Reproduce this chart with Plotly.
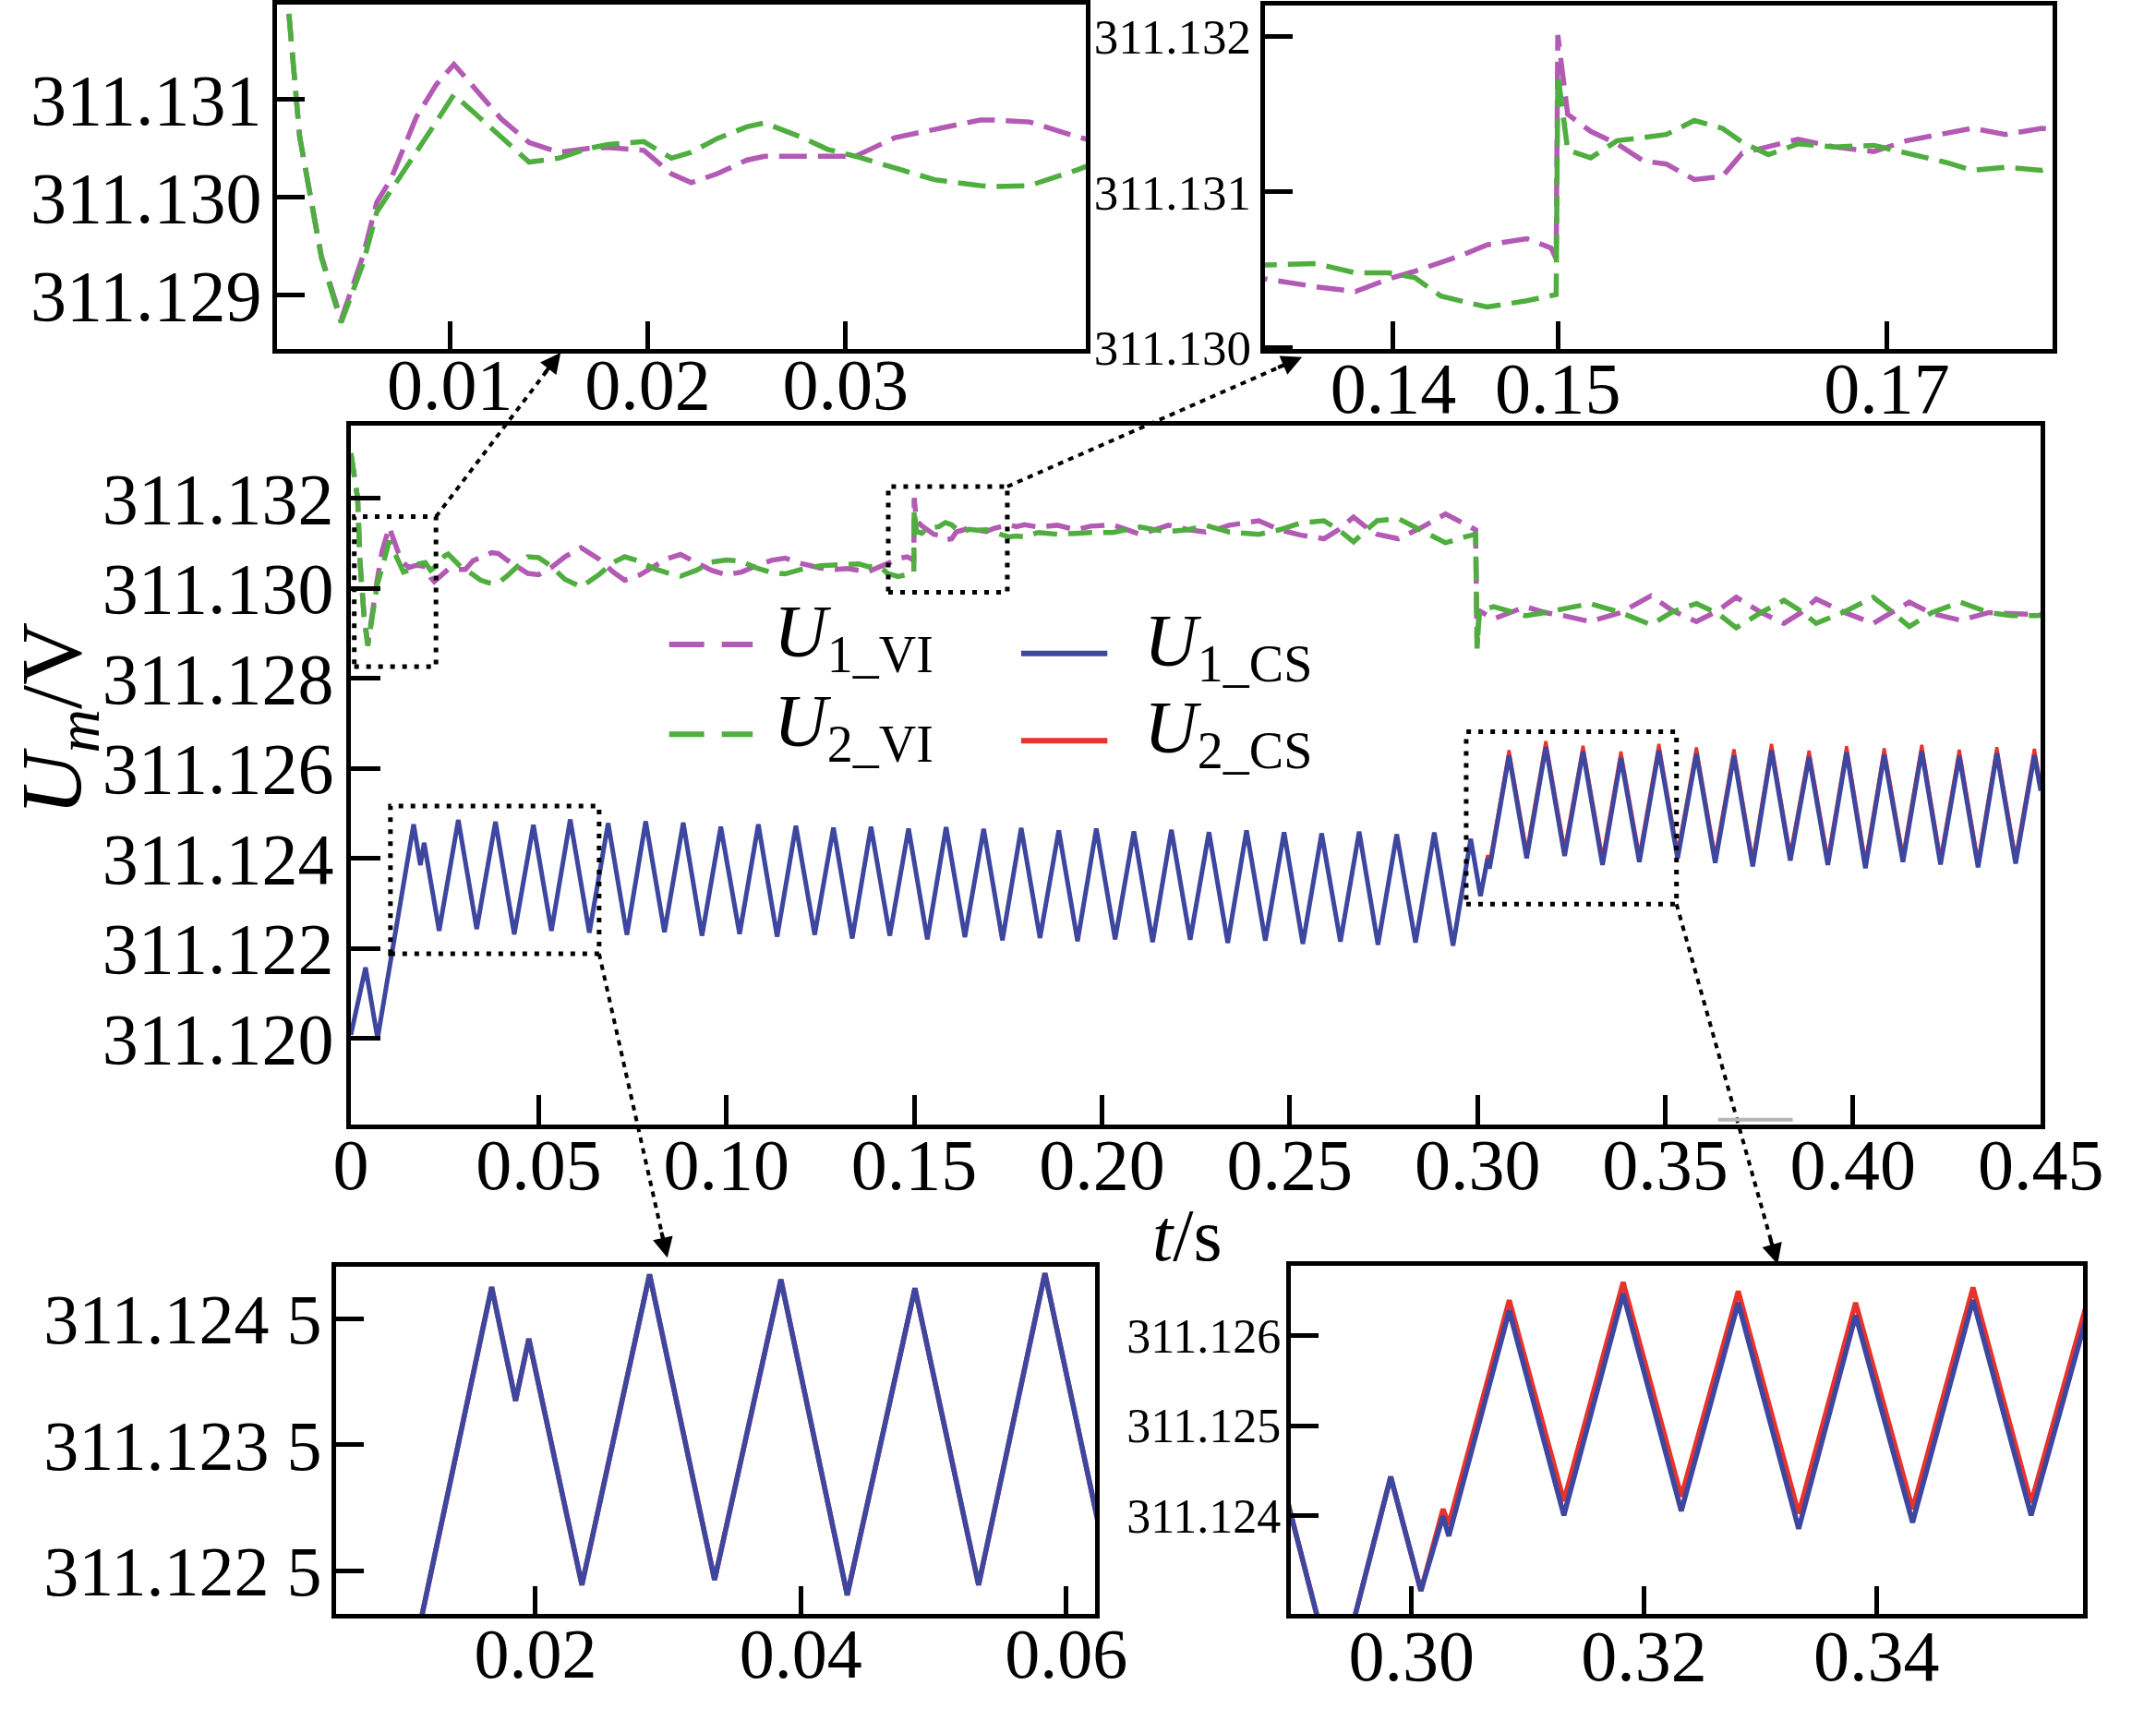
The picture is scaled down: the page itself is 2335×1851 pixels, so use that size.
import plotly.graph_objects as go

W, H = 2335, 1851
FONT = "Liberation Serif"

# ---------------- data ----------------
# Current-sharing (CS) control: vertex times (s)
t_cs = [
    0.0, 0.0039, 0.0071, 0.0167, 0.0185, 0.0195,
    0.0235, 0.0286, 0.0335, 0.0385, 0.0435, 0.0486, 0.0534, 0.0584,
    0.0635, 0.0685, 0.0735, 0.0785, 0.0835, 0.0885, 0.0935, 0.0985,
    0.1035, 0.1085, 0.1135, 0.1185, 0.1235, 0.1285, 0.1335, 0.1385,
    0.1435, 0.1485, 0.1535, 0.1585, 0.1635, 0.1685, 0.1735, 0.1785,
    0.1835, 0.1885, 0.1935, 0.1985, 0.2035, 0.2085, 0.2135, 0.2185,
    0.2235, 0.2285, 0.2335, 0.2385, 0.2435, 0.2485, 0.2535, 0.2585,
    0.2635, 0.2685, 0.2735, 0.2785, 0.2835, 0.2885, 0.2935,
    0.2982, 0.3008, 0.3027, 0.3032, 0.3084, 0.3131, 0.3182, 0.3232,
    0.3281, 0.3333, 0.3382, 0.3431, 0.3483, 0.3533,
    0.3583, 0.3633, 0.3683, 0.3733, 0.3783, 0.3833, 0.3883, 0.3933,
    0.3983, 0.4033, 0.4083, 0.4133, 0.4183, 0.4233, 0.4283, 0.4333,
    0.4383, 0.4433, 0.4483, 0.4500,
]
u1_cs = [
    311.12008, 311.12157, 311.12000, 311.12475, 311.12385, 311.12434,
    311.12239, 311.12485, 311.12243, 311.12481, 311.12231, 311.12474, 311.12239, 311.12486,
    311.12235, 311.12478, 311.12230, 311.12482, 311.12236, 311.12479, 311.12228, 311.12470,
    311.12232, 311.12475, 311.12226, 311.12472, 311.12230, 311.12468, 311.12222, 311.12470,
    311.12228, 311.12466, 311.12220, 311.12469, 311.12225, 311.12465, 311.12218, 311.12467,
    311.12223, 311.12462, 311.12216, 311.12466, 311.12220, 311.12460, 311.12214, 311.12463,
    311.12219, 311.12458, 311.12212, 311.12462, 311.12217, 311.12458, 311.12210, 311.12455,
    311.12215, 311.12459, 311.12208, 311.12453, 311.12213, 311.12457, 311.12206,
    311.12443, 311.12316, 311.12399, 311.12377, 311.12628, 311.12400, 311.12647, 311.12405,
    311.12637, 311.12385, 311.12623, 311.12392, 311.12640, 311.12400,
    311.12632, 311.12390, 311.12628, 311.12382, 311.12640, 311.12395, 311.12625, 311.12385,
    311.12635, 311.12378, 311.12630, 311.12392, 311.12638, 311.12386, 311.12627, 311.12380,
    311.12633, 311.12388, 311.12629, 311.12550,
]
u2_cs = [
    311.12008, 311.12157, 311.12000, 311.12475, 311.12385, 311.12434,
    311.12239, 311.12485, 311.12243, 311.12481, 311.12231, 311.12474, 311.12239, 311.12486,
    311.12235, 311.12478, 311.12230, 311.12482, 311.12236, 311.12479, 311.12228, 311.12470,
    311.12232, 311.12475, 311.12226, 311.12472, 311.12230, 311.12468, 311.12222, 311.12470,
    311.12228, 311.12466, 311.12220, 311.12469, 311.12225, 311.12465, 311.12218, 311.12467,
    311.12223, 311.12462, 311.12216, 311.12466, 311.12220, 311.12460, 311.12214, 311.12463,
    311.12219, 311.12458, 311.12212, 311.12462, 311.12217, 311.12458, 311.12210, 311.12455,
    311.12215, 311.12459, 311.12208, 311.12453, 311.12213, 311.12457, 311.12206,
    311.12443, 311.12316, 311.12407, 311.12390, 311.12640, 311.12416, 311.12660, 311.12421,
    311.12650, 311.12402, 311.12637, 311.12407, 311.12654, 311.12414,
    311.12646, 311.12405, 311.12642, 311.12397, 311.12654, 311.12410, 311.12639, 311.12400,
    311.12649, 311.12393, 311.12644, 311.12407, 311.12652, 311.12401, 311.12641, 311.12395,
    311.12647, 311.12403, 311.12643, 311.12565,
]

# Virtual-inertia (VI) control: sample times (s)
t_vi = [
    0.0, 0.0018, 0.0024, 0.0035, 0.0045, 0.0056, 0.0063, 0.0070, 0.0083, 0.0093,
    0.0102, 0.0113, 0.0126, 0.0140, 0.0155, 0.0170, 0.0180, 0.0198, 0.0212, 0.0222,
    0.0235, 0.0250, 0.0259, 0.0277, 0.0291, 0.0305, 0.0325, 0.0345, 0.0368, 0.0375,
    0.0393, 0.0417,
    0.0471, 0.0500, 0.0532, 0.0570, 0.0613, 0.0660, 0.0700, 0.0729, 0.0770, 0.0803,
    0.0840, 0.0878, 0.0920, 0.0960, 0.1000, 0.1040, 0.1080, 0.1120, 0.1156, 0.1200,
    0.1250, 0.1290,
    0.1323, 0.1353, 0.1377, 0.1397, 0.1413, 0.1429, 0.1441, 0.1457, 0.1481, 0.1496,
    0.1499, 0.1500, 0.1506, 0.1520, 0.1536, 0.1552, 0.1566, 0.1583, 0.1600, 0.1612,
    0.1628, 0.1646, 0.1668, 0.1692, 0.1712, 0.1736, 0.1752, 0.1772, 0.1794,
    0.1830, 0.1881, 0.1930, 0.1970, 0.2029, 0.2065, 0.2102, 0.2140, 0.2177, 0.2230,
    0.2276, 0.2310, 0.2339, 0.2418, 0.2473, 0.2530, 0.2591, 0.2630, 0.2670, 0.2705,
    0.2733, 0.2789, 0.2844, 0.2915, 0.2970, 0.2995, 0.2999, 0.3005,
    0.3043, 0.3085, 0.3128, 0.3179, 0.3230, 0.3300, 0.3381, 0.3462, 0.3520, 0.3583,
    0.3640, 0.3689, 0.3755, 0.3816, 0.3860, 0.3902, 0.3978, 0.4054, 0.4100, 0.4150,
    0.4210, 0.4286, 0.4362, 0.4423, 0.4493, 0.4500,
]
u1_vi = [
    311.13300, 311.13200, 311.13062, 311.12940, 311.12875, 311.12940, 311.12995, 311.13018, 311.13082, 311.13115,
    311.13136, 311.13110, 311.13080, 311.13056, 311.13046, 311.13050, 311.13051, 311.13048, 311.13024, 311.13015,
    311.13024, 311.13038, 311.13042, 311.13042, 311.13042, 311.13042, 311.13061, 311.13069, 311.13079, 311.13079,
    311.13077, 311.13062,
    311.13033, 311.13030, 311.13045, 311.13070, 311.13090, 311.13065, 311.13035, 311.13018, 311.13030, 311.13045,
    311.13065, 311.13075, 311.13058, 311.13040, 311.13030, 311.13036, 311.13050, 311.13062, 311.13067, 311.13055,
    311.13045, 311.13042,
    311.13044, 311.13039, 311.13036, 311.13044, 311.13049, 311.13055, 311.13059, 311.13066, 311.13070, 311.13064,
    311.13057, 311.13201, 311.13150, 311.13139, 311.13131, 311.13120, 311.13118, 311.13108, 311.13110, 311.13125,
    311.13129, 311.13134, 311.13129, 311.13126, 311.13133, 311.13138, 311.13141, 311.13137, 311.13141,
    311.13136, 311.13140, 311.13130, 311.13138, 311.13141, 311.13130, 311.13120, 311.13130, 311.13140, 311.13130,
    311.13125, 311.13132, 311.13140, 311.13150, 311.13130, 311.13118, 311.13110, 311.13130, 311.13158, 311.13135,
    311.13120, 311.13110, 311.13132, 311.13165, 311.13140, 311.13130, 311.12872, 311.12950,
    311.12932, 311.12945, 311.12959, 311.12946, 311.12939, 311.12926, 311.12946, 311.12983, 311.12950, 311.12926,
    311.12950, 311.12980, 311.12946, 311.12922, 311.12945, 311.12976, 311.12946, 311.12922, 311.12946, 311.12969,
    311.12944, 311.12929, 311.12946, 311.12943, 311.12940, 311.12941,
]
u2_vi = [
    311.13300, 311.13200, 311.13062, 311.12938, 311.12872, 311.12932, 311.12985, 311.13007, 311.13046, 311.13077,
    311.13105, 311.13085, 311.13062, 311.13036, 311.13040, 311.13050, 311.13054, 311.13057, 311.13040, 311.13046,
    311.13060, 311.13072, 311.13076, 311.13062, 311.13049, 311.13042, 311.13030, 311.13018, 311.13012, 311.13011,
    311.13012, 311.13028,
    311.13070, 311.13068, 311.13050, 311.13020, 311.13003, 311.13030, 311.13058, 311.13070, 311.13060, 311.13045,
    311.13035, 311.13027, 311.13040, 311.13058, 311.13063, 311.13060, 311.13045, 311.13035, 311.13032, 311.13042,
    311.13050, 311.13053,
    311.13053, 311.13054, 311.13048, 311.13048, 311.13045, 311.13033, 311.13030, 311.13026, 311.13030, 311.13034,
    311.13034, 311.13176, 311.13127, 311.13122, 311.13133, 311.13135, 311.13137, 311.13146, 311.13141, 311.13132,
    311.13124, 311.13131, 311.13129, 311.13130, 311.13125, 311.13119, 311.13114, 311.13116, 311.13114,
    311.13124, 311.13120, 311.13122, 311.13124, 311.13124, 311.13130, 311.13136, 311.13130, 311.13126, 311.13130,
    311.13140, 311.13132, 311.13125, 311.13120, 311.13130, 311.13145, 311.13150, 311.13130, 311.13103, 311.13130,
    311.13150, 311.13155, 311.13132, 311.13101, 311.13115, 311.13120, 311.12866, 311.12950,
    311.12959, 311.12950, 311.12939, 311.12946, 311.12955, 311.12966, 311.12946, 311.12919, 311.12948, 311.12966,
    311.12944, 311.12912, 311.12946, 311.12973, 311.12950, 311.12922, 311.12948, 311.12980, 311.12950, 311.12915,
    311.12946, 311.12969, 311.12946, 311.12939, 311.12939, 311.12940,
]

# tick values / labels
main_xticks = [0.0, 0.05, 0.10, 0.15, 0.20, 0.25, 0.30, 0.35, 0.40, 0.45]
main_xlabels = ["0", "0.05", "0.10", "0.15", "0.20", "0.25", "0.30", "0.35", "0.40", "0.45"]
main_yticks = [311.120, 311.122, 311.124, 311.126, 311.128, 311.130, 311.132]
main_ylabels = ["311.120", "311.122", "311.124", "311.126", "311.128", "311.130", "311.132"]
tl_xticks = [0.01, 0.02, 0.03]
tl_xlabels = ["0.01", "0.02", "0.03"]
tl_yticks = [311.129, 311.130, 311.131]
tl_ylabels = ["311.129", "311.130", "311.131"]
tr_xticks = [0.14, 0.15, 0.17]
tr_xlabels = ["0.14", "0.15", "0.17"]
tr_yticks = [311.130, 311.131, 311.132]
tr_ylabels = ["311.130", "311.131", "311.132"]
bl_xticks = [0.02, 0.04, 0.06]
bl_xlabels = ["0.02", "0.04", "0.06"]
bl_yticks = [311.1225, 311.1235, 311.1245]
bl_ylabels = ["311.122 5", "311.123 5", "311.124 5"]
br_xticks = [0.30, 0.32, 0.34]
br_xlabels = ["0.30", "0.32", "0.34"]
br_yticks = [311.124, 311.125, 311.126]
br_ylabels = ["311.124", "311.125", "311.126"]

legend_names = ["<i>U</i><sub>1_VI</sub>", "<i>U</i><sub>2_VI</sub>",
                "<i>U</i><sub>1_CS</sub>", "<i>U</i><sub>2_CS</sub>"]

# ---------------- styling ----------------
C_M = "#B35AB4"
C_G = "#4FAE3F"
C_B = "#3D47A0"
C_R = "#E8322C"
DASH = "26px,12px"


def px(xr, yr):
    return xr / W, 1 - yr / H


def dom(x0, x1, y0, y1):
    return [x0 / W, x1 / W], [1 - y1 / H, 1 - y0 / H]


# axes boxes in pixels (left, right, top, bottom)
MAIN = (375, 2276, 467, 1236)
TL = (292, 1202, 4, 383)
TR = (1403, 2289, 5, 383)
BL = (358, 1212, 1393, 1775)
BR = (1432, 2324, 1392, 1775)

MAIN_XR = [0, 0.45]
MAIN_YR = [311.11809, 311.13362]

fig = go.Figure()


def add(xs, ys, color, dash, width, n):
    fig.add_trace(go.Scatter(
        x=xs, y=ys, mode="lines",
        line=dict(color=color, dash=dash, width=width),
        xaxis="x" if n == 1 else f"x{n}", yaxis="y" if n == 1 else f"y{n}",
        showlegend=False, hoverinfo="skip"))


# main
add(t_cs, u2_cs, C_R, "solid", 3.5, 1)
add(t_cs, u1_cs, C_B, "solid", 5, 1)
add(t_vi, u1_vi, C_M, DASH, 5.5, 1)
add(t_vi, u2_vi, C_G, DASH, 5.5, 1)
# top-left / top-right insets (VI)
for n in (2, 3):
    add(t_vi, u1_vi, C_M, "30px,12px", 5.5, n)
    add(t_vi, u2_vi, C_G, "30px,12px", 5.5, n)
# bottom insets (CS)
for n in (4, 5):
    add(t_cs, u2_cs, C_R, "solid", 5.5, n)
    add(t_cs, u1_cs, C_B, "solid", 5.5, n)


def axis(domain, rng, tv, tt, fs, standoff, anchor, lw=5, tl=32):
    return dict(domain=domain, range=rng, tickvals=tv, ticktext=tt,
                ticks="inside", ticklen=tl, tickwidth=5, tickcolor="black",
                showline=True, linecolor="black", linewidth=lw, mirror=True,
                showgrid=False, zeroline=False, fixedrange=True,
                tickfont=dict(family=FONT, size=fs, color="black"),
                ticklabelstandoff=standoff, anchor=anchor)


dx, dy = dom(*MAIN)
lay = dict(
    xaxis=axis(dx, MAIN_XR, main_xticks, main_xlabels, 78, -28, "y"),
    yaxis=axis(dy, MAIN_YR, main_yticks, main_ylabels, 78, -2, "x"),
)
# (n, box, xrange, yrange, xticks, xlabels, yticks, ylabels, xfont, yfont, xstandoff, ystandoff)
specs = [
    (2, TL, [0.00126, 0.04216], [311.12845, 311.13197], tl_xticks, tl_xlabels, tl_yticks, tl_ylabels, 78, 78, -34, -4),
    (3, TR, [0.13219, 0.18005], [311.12999, 311.1322], tr_xticks, tr_xlabels, tr_yticks, tr_ylabels, 78, 53, -30, -1),
    (4, BL, [0.00495, 0.06217], [311.12216, 311.12491], bl_xticks, bl_xlabels, bl_yticks, bl_ylabels, 76, 76, -27, -5),
    (5, BR, [0.28958, 0.35780], [311.1229, 311.12678], br_xticks, br_xlabels, br_yticks, br_ylabels, 78, 52, -27, -5),
]
for n, box, xr, yr, xtv, xtt, ytv, ytt, fx, fy, sx_, sy_ in specs:
    ddx, ddy = dom(*box)
    lay[f"xaxis{n}"] = axis(ddx, xr, xtv, xtt, fx, sx_, f"y{n}", lw=5, tl=30)
    lay[f"yaxis{n}"] = axis(ddy, yr, ytv, ytt, fy, sy_, f"x{n}", lw=5, tl=30)

fig.update_layout(width=W, height=H, margin=dict(l=0, r=0, t=0, b=0),
                  paper_bgcolor="white", plot_bgcolor="white", showlegend=False,
                  **lay)


def main_px(t, v):
    l, r, tp, b = MAIN
    x = l + (t - MAIN_XR[0]) / (MAIN_XR[1] - MAIN_XR[0]) * (r - l)
    y = b - (v - MAIN_YR[0]) / (MAIN_YR[1] - MAIN_YR[0]) * (b - tp)
    return x, y


shapes = []
annos = []
DOTBOX = dict(color="black", width=5, dash="5px,8px")
zoom_boxes = [
    (0.0009, 0.02266, 311.12826, 311.13159),
    (0.1431, 0.1748, 311.12991, 311.13226),
    (0.01053, 0.0661, 311.12188, 311.12516),
    (0.2970, 0.3530, 311.12298, 311.12681),
]
for x0, x1, y0, y1 in zoom_boxes:
    shapes.append(dict(type="rect", xref="x", yref="y", x0=x0, x1=x1, y0=y0, y1=y1,
                       line=DOTBOX, fillcolor="rgba(0,0,0,0)", layer="above"))

# connectors: (start corner in data, arrow head in pixels)
connectors = [
    ((0.02266, 311.13159), (611, 387)),
    ((0.1748, 311.13226), (1445, 392)),
    ((0.0661, 311.12188), (731, 1383)),
    ((0.3530, 311.12298), (1980, 1390)),
]
for (tt, vv), (hx, hy) in connectors:
    sx, sy = main_px(tt, vv)
    L = ((hx - sx) ** 2 + (hy - sy) ** 2) ** 0.5
    ux, uy = (hx - sx) / L, (hy - sy) / L
    ex, ey = hx - ux * 14, hy - uy * 14
    p0 = px(sx, sy)
    p1 = px(ex, ey)
    shapes.append(dict(type="line", xref="paper", yref="paper", x0=p0[0], y0=p0[1], x1=p1[0], y1=p1[1],
                       line=dict(color="black", width=4, dash="6px,6px")))
    ph = px(hx, hy)
    annos.append(dict(x=ph[0], y=ph[1], xref="paper", yref="paper", text="", showarrow=True,
                      ax=-ux * 30, ay=-uy * 30, arrowhead=2, arrowsize=1.1, arrowwidth=4,
                      arrowcolor="black", standoff=0))

# small grey mark on the main x axis
g0 = px(1913, 1231)
g1 = px(1997, 1231)
shapes.append(dict(type="line", xref="paper", yref="paper", x0=g0[0], y0=g0[1], x1=g1[0], y1=g1[1],
                   line=dict(color="#b5b5b5", width=4)))

# legend (manual)
leg_items = [
    (legend_names[0], C_M, "38px,19px", 733, 827, 708, 849),
    (legend_names[1], C_G, "38px,19px", 733, 827, 807, 849),
    (legend_names[2], C_B, "solid", 1129, 1226, 718, 1265),
    (legend_names[3], C_R, "solid", 1129, 1226, 814, 1265),
]
for name, col, dsh, lx0, lx1, ly, tx in leg_items:
    a = px(lx0, ly)
    b = px(lx1, ly)
    shapes.append(dict(type="line", xref="paper", yref="paper", x0=a[0], y0=a[1], x1=b[0], y1=b[1],
                       line=dict(color=col, width=6, dash=dsh)))
    tp = px(tx, ly - 8)
    annos.append(dict(x=tp[0], y=tp[1], xref="paper", yref="paper", text=name, showarrow=False,
                      xanchor="left", yanchor="middle",
                      font=dict(family=FONT, size=80, color="black")))

# axis titles
yt = px(-19, 790)
annos.append(dict(x=yt[0], y=yt[1], xref="paper", yref="paper", text="<i>U</i><sub><i>m</i></sub>/V",
                  textangle=-90, showarrow=False, xanchor="left", yanchor="middle",
                  font=dict(family=FONT, size=94, color="black")))
xt = px(1316, 1358)
annos.append(dict(x=xt[0], y=xt[1], xref="paper", yref="paper", text="<i>t</i>/s",
                  showarrow=False, xanchor="center", yanchor="middle",
                  font=dict(family=FONT, size=80, color="black")))

fig.update_layout(shapes=shapes, annotations=annos)
fig.write_html("out.html", config={"displayModeBar": False},
               post_script="document.body.style.margin='0';document.body.style.padding='0';"
                           "document.body.style.overflow='hidden';")
